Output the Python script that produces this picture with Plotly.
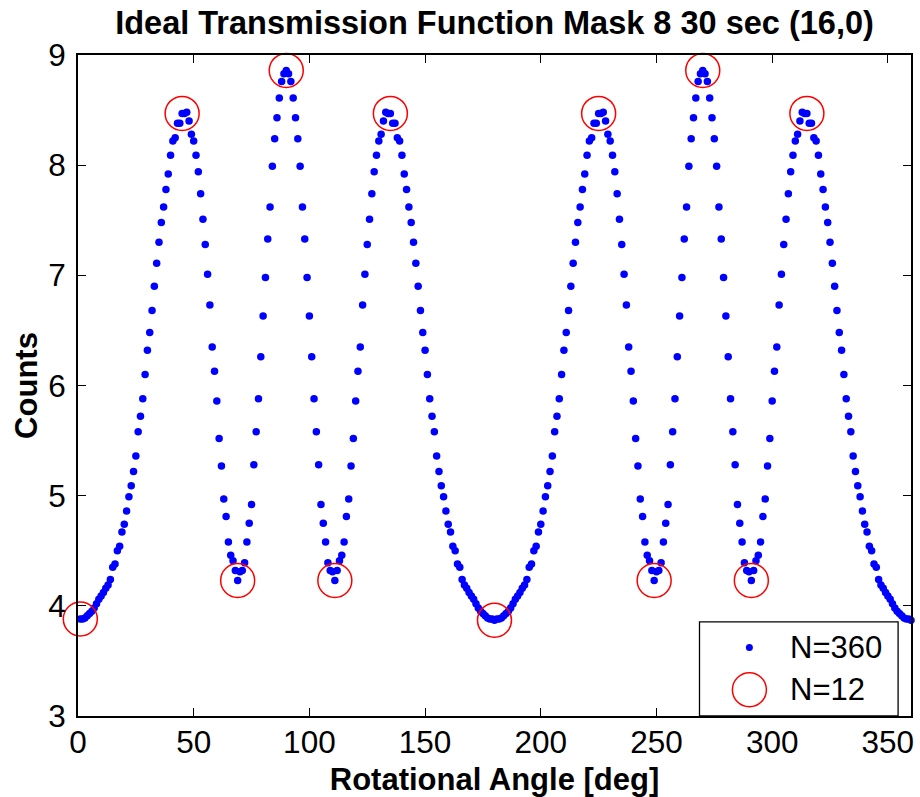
import plotly.graph_objects as go

# ---------------- data ----------------
angles_360 = list(range(1, 361))
counts_360 = [
    # 1..90
    3.88, 3.88, 3.89, 3.91, 3.93, 3.95, 3.98, 4.02, 4.06, 4.09,
    4.12, 4.16, 4.19, 4.24, 4.35, 4.38, 4.50, 4.54, 4.67, 4.74,
    4.86, 4.99, 5.09, 5.22, 5.36, 5.58, 5.72, 5.88, 6.10, 6.32,
    6.48, 6.68, 6.90, 7.11, 7.30, 7.48, 7.62, 7.78, 7.92, 8.09,
    8.22, 8.25, 8.38, 8.38, 8.47, 8.47, 8.48, 8.40, 8.28, 8.22,
    8.09, 7.94, 7.74, 7.51, 7.28, 7.01, 6.73, 6.35, 6.13, 5.86,
    5.52, 5.27, 4.97, 4.81, 4.58, 4.46, 4.41, 4.32, 4.23, 4.31,
    4.32, 4.39, 4.58, 4.75, 4.92, 5.28, 5.58, 5.88, 6.26, 6.63,
    6.98, 7.33, 7.62, 7.99, 8.24, 8.43, 8.61, 8.76, 8.83, 8.86,
    # 91..180
    8.83, 8.76, 8.61, 8.43, 8.24, 7.99, 7.62, 7.33, 6.98, 6.63,
    6.26, 5.88, 5.58, 5.28, 4.92, 4.75, 4.58, 4.39, 4.32, 4.31,
    4.23, 4.32, 4.41, 4.46, 4.58, 4.81, 4.97, 5.27, 5.52, 5.86,
    6.13, 6.35, 6.73, 7.01, 7.28, 7.51, 7.74, 7.94, 8.09, 8.22,
    8.28, 8.40, 8.48, 8.47, 8.47, 8.38, 8.38, 8.25, 8.22, 8.09,
    7.92, 7.78, 7.62, 7.48, 7.30, 7.11, 6.90, 6.68, 6.48, 6.32,
    6.10, 5.88, 5.72, 5.58, 5.36, 5.22, 5.09, 4.99, 4.86, 4.74,
    4.67, 4.54, 4.50, 4.38, 4.35, 4.24, 4.19, 4.16, 4.12, 4.09,
    4.06, 4.02, 3.98, 3.95, 3.93, 3.91, 3.89, 3.88, 3.88, 3.87,
    # 181..270
    3.88, 3.88, 3.89, 3.91, 3.93, 3.95, 3.98, 4.02, 4.06, 4.09,
    4.12, 4.16, 4.19, 4.24, 4.35, 4.38, 4.50, 4.54, 4.67, 4.74,
    4.86, 4.99, 5.09, 5.22, 5.36, 5.58, 5.72, 5.88, 6.10, 6.32,
    6.48, 6.68, 6.90, 7.11, 7.30, 7.48, 7.62, 7.78, 7.92, 8.09,
    8.22, 8.25, 8.38, 8.38, 8.47, 8.47, 8.48, 8.40, 8.28, 8.22,
    8.09, 7.94, 7.74, 7.51, 7.28, 7.01, 6.73, 6.35, 6.13, 5.86,
    5.52, 5.27, 4.97, 4.81, 4.58, 4.46, 4.41, 4.32, 4.23, 4.31,
    4.32, 4.39, 4.58, 4.75, 4.92, 5.28, 5.58, 5.88, 6.26, 6.63,
    6.98, 7.33, 7.62, 7.99, 8.24, 8.43, 8.61, 8.76, 8.83, 8.86,
    # 271..360
    8.83, 8.76, 8.61, 8.43, 8.24, 7.99, 7.62, 7.33, 6.98, 6.63,
    6.26, 5.88, 5.58, 5.28, 4.92, 4.75, 4.58, 4.39, 4.32, 4.31,
    4.23, 4.32, 4.41, 4.46, 4.58, 4.81, 4.97, 5.27, 5.52, 5.86,
    6.13, 6.35, 6.73, 7.01, 7.28, 7.51, 7.74, 7.94, 8.09, 8.22,
    8.28, 8.40, 8.48, 8.47, 8.47, 8.38, 8.38, 8.25, 8.22, 8.09,
    7.92, 7.78, 7.62, 7.48, 7.30, 7.11, 6.90, 6.68, 6.48, 6.32,
    6.10, 5.88, 5.72, 5.58, 5.36, 5.22, 5.09, 4.99, 4.86, 4.74,
    4.67, 4.54, 4.50, 4.38, 4.35, 4.24, 4.19, 4.16, 4.12, 4.09,
    4.06, 4.02, 3.98, 3.95, 3.93, 3.91, 3.89, 3.88, 3.88, 3.87,
]

angles_12 = [1, 45, 69, 90, 111, 135, 180, 225, 249, 270, 291, 315]
counts_12 = [3.88, 8.47, 4.23, 8.86, 4.23, 8.47, 3.87, 8.47, 4.23, 8.86, 4.23, 8.47]

x_ticks = [0, 50, 100, 150, 200, 250, 300, 350]
y_ticks = [3, 4, 5, 6, 7, 8, 9]

title_text = "Ideal Transmission Function Mask 8 30 sec (16,0)"
x_label = "Rotational Angle [deg]"
y_label = "Counts"
name_360 = "N=360"
name_12 = "N=12"

# ---------------- style ----------------
FONT = "Liberation Sans, Arial, Helvetica, sans-serif"
BLUE = "#0000FF"
RED = "#FF0000"

fig = go.Figure()
fig.add_trace(go.Scatter(
    x=angles_360, y=counts_360, mode="markers", name=name_360,
    marker=dict(color=BLUE, size=7.5, line=dict(width=0)),
    cliponaxis=False, showlegend=False,
))
fig.add_trace(go.Scatter(
    x=angles_12, y=counts_12, mode="markers", name=name_12,
    marker=dict(symbol="circle-open", size=34, color=RED,
                line=dict(width=1.5, color=RED)),
    cliponaxis=False, showlegend=False,
))

axis_common = dict(
    showline=True, linecolor="black", linewidth=2, mirror="ticks",
    ticks="inside", ticklen=8, tickwidth=1, tickcolor="black",
    showgrid=False, zeroline=False,
    tickfont=dict(family=FONT, size=31.5, color="black"),
)

fig.update_xaxes(
    range=[0, 360], tickvals=x_ticks,
    title=dict(text=x_label, standoff=10,
               font=dict(family=FONT, size=31, color="black", weight="bold")),
    ticklabelstandoff=-3,
    **axis_common,
)
fig.update_yaxes(
    range=[3, 9], tickvals=y_ticks,
    title=dict(text=y_label, standoff=1,
               font=dict(family=FONT, size=31, color="black", weight="bold")),
    ticklabelstandoff=4,
    **axis_common,
)

# ---------------- legend (drawn with shapes + text so symbol sizes match) ----------------
lx0, lx1, ly0, ly1 = 0.7461, 0.9845, 0.0, 0.1424
sym_x = 0.806
row_y = [0.1038, 0.0397]
text_x = 0.852
shapes = [
    dict(type="rect", xref="paper", yref="paper", x0=lx0, x1=lx1, y0=ly0, y1=ly1,
         line=dict(color="black", width=1.3), fillcolor="white", layer="above"),
    dict(type="circle", xref="paper", yref="paper", xsizemode="pixel", ysizemode="pixel",
         xanchor=sym_x, yanchor=row_y[0], x0=-3.5, x1=3.5, y0=-3.5, y1=3.5,
         fillcolor=BLUE, line=dict(width=0), layer="above"),
    dict(type="circle", xref="paper", yref="paper", xsizemode="pixel", ysizemode="pixel",
         xanchor=sym_x, yanchor=row_y[1], x0=-17, x1=17, y0=-17, y1=17,
         fillcolor="rgba(0,0,0,0)", line=dict(width=1.5, color=RED), layer="above"),
]
annotations = [
    dict(text=name_360, xref="paper", yref="paper", x=text_x, y=row_y[0],
         xanchor="left", yanchor="middle", showarrow=False,
         font=dict(family=FONT, size=31, color="black")),
    dict(text=name_12, xref="paper", yref="paper", x=text_x, y=row_y[1],
         xanchor="left", yanchor="middle", showarrow=False,
         font=dict(family=FONT, size=31, color="black")),
]

fig.update_layout(
    width=920, height=797,
    margin=dict(l=78, r=6, t=55, b=80),
    paper_bgcolor="white", plot_bgcolor="white",
    font=dict(family=FONT, color="black"),
    title=dict(text=title_text, x=0.5, xref="paper", xanchor="center",
               y=1 - 23 / 797, yref="container", yanchor="middle",
               font=dict(family=FONT, size=32.5, color="black", weight="bold")),
    shapes=shapes, annotations=annotations,
    showlegend=False,
)

fig.write_html("out.html")
